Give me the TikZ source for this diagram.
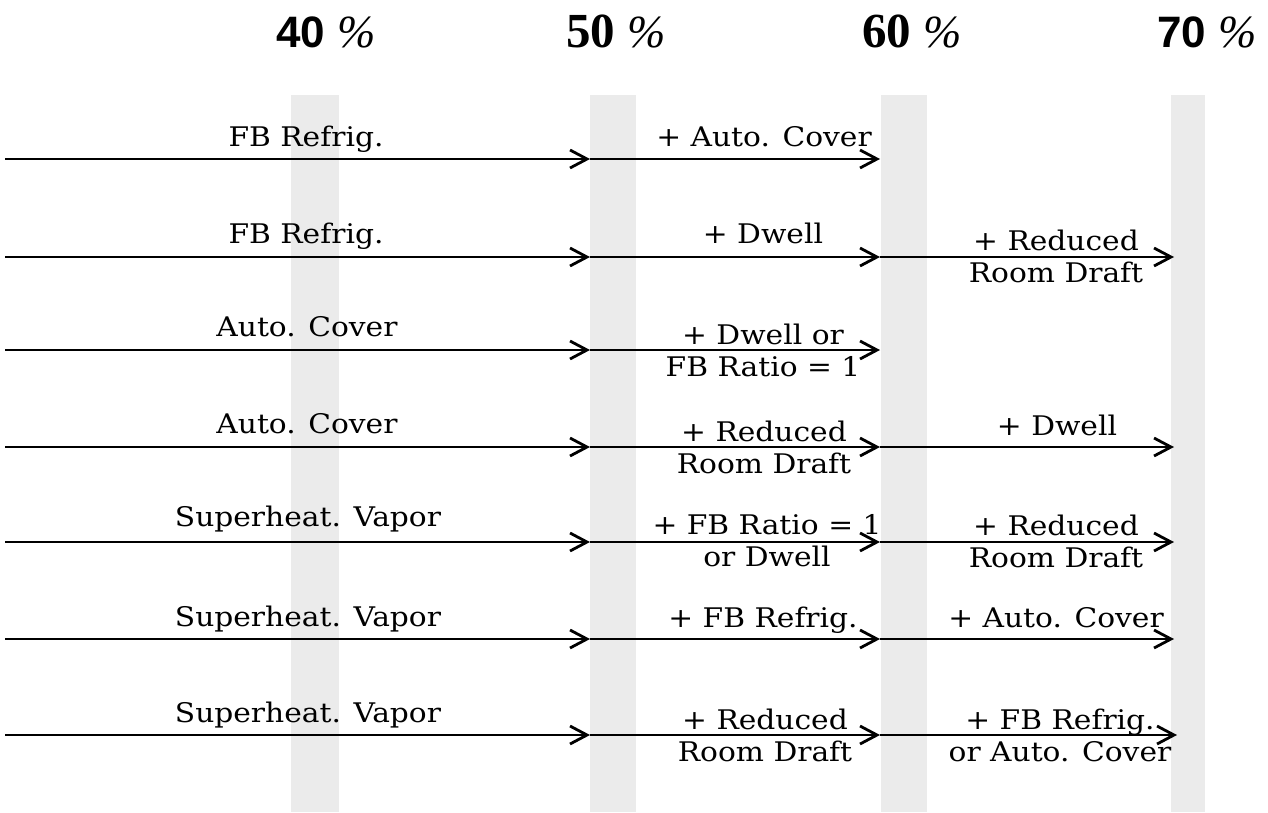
\documentclass[tikz,border=0pt]{standalone}
\usepackage{fontspec}
\setmainfont{DejaVu Serif}[FakeStretch=1.1]
\newfontfamily\hdsans{Liberation Sans}
\newfontfamily\hdserif{Liberation Serif}
\usetikzlibrary{arrows.meta}

\newcommand{\pct}{\hspace{12pt}{\hdserif\itshape\mdseries\fontsize{46}{50}\selectfont\%}}

\begin{document}
\begin{tikzpicture}[
    x=1pt, y=-1pt,
    flow/.style={-{Straight Barb[length=17pt, width=18pt, line width=2.8pt]}, line width=2.4pt},
    lab/.style={font=\fontsize{27}{32}\selectfont, inner sep=0pt, anchor=base},
    duo/.style={font=\fontsize{27}{32}\selectfont, inner sep=0pt, align=center, anchor=center},
    head/.style={inner sep=0pt, anchor=base},
    band/.style={fill=gray!16, draw=none}
]
    \useasboundingbox (0,0) rectangle (1268,812);
    % percentage bands
    \fill[band] (291,95) rectangle (339,812);
    \fill[band] (590,95) rectangle (636,812);
    \fill[band] (881,95) rectangle (927,812);
    \fill[band] (1171,95) rectangle (1205,812);
    % header
    \node[head] (h40) at (326,47) {\hdsans\bfseries\fontsize{44}{48}\selectfont 40\pct};
    \node[head] (h50) at (616,47) {\hdserif\bfseries\fontsize{49}{52}\selectfont 50\pct};
    \node[head] (h60) at (912,47) {\hdserif\bfseries\fontsize{49}{52}\selectfont 60\pct};
    \node[head] (h70) at (1207,47) {\hdsans\bfseries\fontsize{44}{48}\selectfont 70\pct};

    % row 1
    \coordinate (s1) at (5,159);
    \coordinate (a1) at (590,159);
    \coordinate (b1) at (880,159);
    \draw[flow] (s1) -- (a1);
    \draw[flow] (a1) -- (b1);
    \node[lab] (l1a) at (306,146) {FB Refrig.};
    \node[lab] (l1b) at (764,146) {+ Auto. Cover};

    % row 2
    \coordinate (s2) at (5,257);
    \coordinate (a2) at (590,257);
    \coordinate (b2) at (880,257);
    \coordinate (c2) at (1174,257);
    \draw[flow] (s2) -- (a2);
    \draw[flow] (a2) -- (b2);
    \draw[flow] (b2) -- (c2);
    \node[lab] (l2a) at (306,243) {FB Refrig.};
    \node[lab] (l2b) at (763,243) {+ Dwell};
    \node[duo] (l2c) at (1056,256) {+ Reduced\\Room Draft};

    % row 3
    \coordinate (s3) at (5,350);
    \coordinate (a3) at (590,350);
    \coordinate (b3) at (880,350);
    \draw[flow] (s3) -- (a3);
    \draw[flow] (a3) -- (b3);
    \node[lab] (l3a) at (307,336) {Auto. Cover};
    \node[duo] (l3b) at (763,350) {+ Dwell or\\FB Ratio = 1};

    % row 4
    \coordinate (s4) at (5,447);
    \coordinate (a4) at (590,447);
    \coordinate (b4) at (880,447);
    \coordinate (c4) at (1174,447);
    \draw[flow] (s4) -- (a4);
    \draw[flow] (a4) -- (b4);
    \draw[flow] (b4) -- (c4);
    \node[lab] (l4a) at (307,433) {Auto. Cover};
    \node[duo] (l4b) at (764,447) {+ Reduced\\Room Draft};
    \node[lab] (l4c) at (1057,435) {+ Dwell};

    % row 5
    \coordinate (s5) at (5,542);
    \coordinate (a5) at (590,542);
    \coordinate (b5) at (880,542);
    \coordinate (c5) at (1174,542);
    \draw[flow] (s5) -- (a5);
    \draw[flow] (a5) -- (b5);
    \draw[flow] (b5) -- (c5);
    \node[lab] (l5a) at (308,526) {Superheat. Vapor};
    \node[duo] (l5b) at (767,541) {+ FB Ratio = 1\\or Dwell};
    \node[duo] (l5c) at (1056,541) {+ Reduced\\Room Draft};

    % row 6
    \coordinate (s6) at (5,639);
    \coordinate (a6) at (590,639);
    \coordinate (b6) at (880,639);
    \coordinate (c6) at (1174,639);
    \draw[flow] (s6) -- (a6);
    \draw[flow] (a6) -- (b6);
    \draw[flow] (b6) -- (c6);
    \node[lab] (l6a) at (308,626) {Superheat. Vapor};
    \node[lab] (l6b) at (763,627) {+ FB Refrig.};
    \node[lab] (l6c) at (1056,627) {+ Auto. Cover};

    % row 7
    \coordinate (s7) at (5,735);
    \coordinate (a7) at (590,735);
    \coordinate (b7) at (880,735);
    \coordinate (c7) at (1177,735);
    \draw[flow] (s7) -- (a7);
    \draw[flow] (a7) -- (b7);
    \draw[flow] (b7) -- (c7);
    \node[lab] (l7a) at (308,722) {Superheat. Vapor};
    \node[duo] (l7b) at (765,735) {+ Reduced\\Room Draft};
    \node[duo] (l7c) at (1060,735) {+ FB Refrig.\\or Auto. Cover};
\end{tikzpicture}
\end{document}
